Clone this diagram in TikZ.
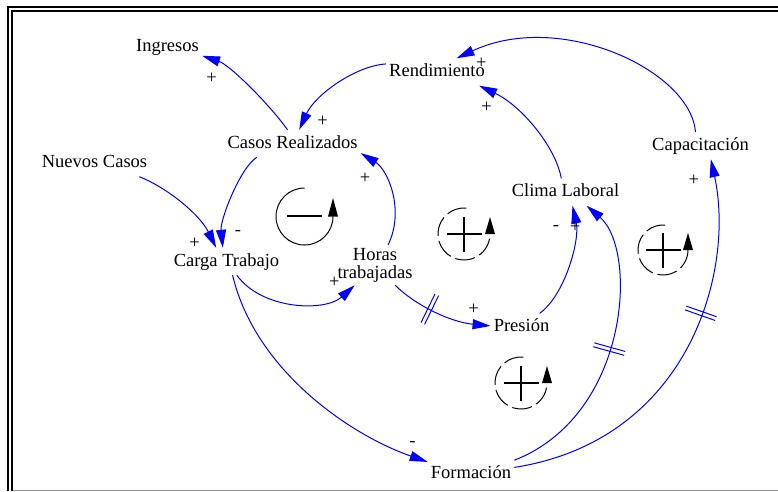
\documentclass[tikz,border=0pt]{standalone}
\usepackage{fontspec}
\setmainfont{Liberation Serif}
\usetikzlibrary{arrows.meta,decorations.markings}
\newcommand\vf{\fontsize{18.5pt}{18pt}\selectfont}
\newcommand\PosLoopSym[3]{%
  \begin{scope}[shift={(#1,#2)}]
    \draw[line width=1pt, dash pattern=on 20pt off 5pt] (85:#3) arc[start angle=85, end angle=360, radius=#3];
    \fill ({#3-5},0) -- ({#3+5},0) -- (#3,17) -- cycle;
    \draw[line width=2.5pt] (-17.5,0) -- (17.5,0) (0,-17.5) -- (0,17.5);
  \end{scope}}
\tikzset{
  vartext/.style={font=\vf, inner xsep=3pt, inner ysep=5pt},
  var/.style={vartext, text height=13pt, text depth=4pt},
  pol/.style={font=\vf, inner sep=0pt, text height=13pt, text depth=4pt},
  link/.style={draw=blue, line width=1pt, -{Triangle[length=18pt,width=10pt]}},
  delaymark/.style={postaction={decorate}, decoration={markings, mark=at position #1 with {\draw[blue,line width=1pt,-] (-2pt,-16pt) -- (-2pt,16pt) (2pt,-16pt) -- (2pt,16pt);}}}
}
\begin{document}
\begin{tikzpicture}[x=1pt,y=1pt]
\useasboundingbox (0,0) rectangle (778,-491);
\fill[white] (0,0) rectangle (778,-491);
% frame
\draw[line width=2pt] (8.3,-491) -- (8.3,-6.7) -- (778,-6.7);
\draw[line width=2pt] (12.3,-491) -- (12.3,-10.7) -- (778,-10.7);
\draw[black!40, line width=1pt] (13.3,-490) -- (778,-490);
% variables
\node[var] (ingresos) at (167.5,-46.5) {Ingresos};
\node[var] (casos) at (292.5,-143.5) {Casos Realizados};
\node[var] (nuevos) at (94.5,-163) {Nuevos Casos};
\node[var] (carga) at (226.5,-261.5) {Carga Trabajo};
\node[vartext, align=center, inner ysep=3pt] (horas) at (375,-265) {Horas\\trabajadas};
\node[var] (presion) at (521.5,-327) {Presión};
\node[var] (formacion) at (471,-473.5) {Formación};
\node[var] (clima) at (565.5,-192) {Clima Laboral};
\node[var] (rend) at (437,-72) {Rendimiento};
\node[var] (capac) at (700.5,-145.5) {Capacitación};
% links
\draw[link] (casos.110) .. controls (270,-105) and (230,-65) .. (ingresos.-15);
\draw[link] (rend.171) .. controls (355,-66) and (315,-95) .. (casos.64);
\draw[link] (casos.201) .. controls (240,-168) and (220,-220) .. (carga.105);
\draw[link] (nuevos.-17) .. controls (168,-188) and (200,-215) .. (carga.127);
\draw[link] (carga.-53) .. controls (262,-310) and (325,-312) .. (horas.225);
\draw[link] (horas.57) .. controls (405,-210) and (388,-170) .. (casos.-8);
\draw[link, delaymark=0.4] (horas.-45) .. controls (415,-305) and (450,-322) .. (presion.178);
\draw[link] (presion.37) .. controls (565,-295) and (580,-240) .. (clima.-63);
\draw[link, delaymark=0.5] (formacion.17) .. controls (630,-415) and (638,-250) .. (clima.-33);
\draw[link, delaymark=0.62] (formacion.8) .. controls (690,-440) and (735,-270) .. (capac.-53);
\draw[link] (capac.110) .. controls (690,-70) and (560,-10) .. (rend.35);
\draw[link] (clima.107) .. controls (555,-145) and (520,-105) .. (rend.-18);
\draw[link] (carga.-66) .. controls (255,-370) and (350,-435) .. (formacion.165);
% polarities
\node[pol] (s1) at (211.7,-79.2) {+};
\node[pol] (s2) at (322.5,-122) {+};
\node[pol] (s3) at (238,-231) {-};
\node[pol] (s4) at (194.7,-244) {+};
\node[pol] (s5) at (334.3,-282.5) {+};
\node[pol] (s6) at (365,-179) {+};
\node[pol] (s7) at (473.7,-310) {+};
\node[pol] (s8) at (556,-226) {-};
\node[pol] (s9) at (575,-227.8) {+};
\node[pol] (s10) at (693.8,-181.3) {+};
\node[pol] (s11) at (481.3,-63.5) {+};
\node[pol] (s12) at (486.7,-108) {+};
\node[pol] (s13) at (412.5,-441.7) {-};
% negative loop
\draw[line width=1pt] (304.5,-188) arc[start angle=90, end angle=360, radius=28.5];
\fill (328,-216.5) -- (338,-216.5) -- (333,-198) -- cycle;
\draw[line width=2.5pt] (287,-216) -- (322,-216);
% positive loops
\PosLoopSym{464}{-234}{26}
\PosLoopSym{663}{-250}{25}
\PosLoopSym{521}{-383}{26}
\end{tikzpicture}
\end{document}
